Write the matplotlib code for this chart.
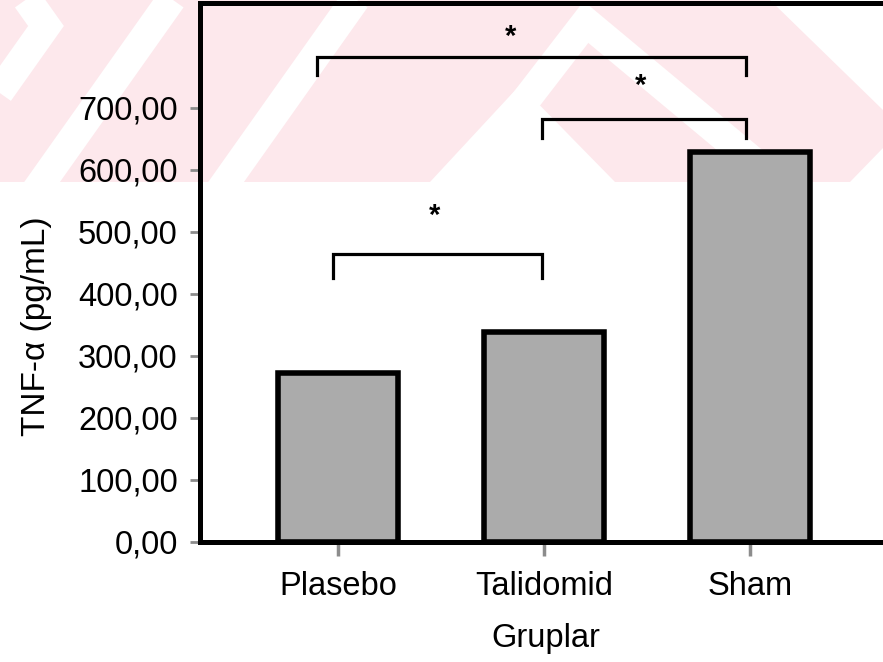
import matplotlib
matplotlib.use("Agg")
import matplotlib.pyplot as plt
from matplotlib.patches import Rectangle, Polygon
from matplotlib.lines import Line2D
from matplotlib.ticker import FuncFormatter
import matplotlib.transforms as mtransforms

# data
groups = ["Plasebo", "Talidomid", "Sham"]
tnf = [273, 339, 629]
yticks = [0, 100, 200, 300, 400, 500, 600, 700]

# significance brackets: (x start, x end, top, leg bottom) and star positions
brackets = [(-0.10, 1.98, 782, 753),
            (0.99, 1.98, 682, 652),
            (-0.025, 0.99, 465, 425)]
stars = [(0.84, 829), (1.47, 750), (0.47, 540)]

plt.rcParams['font.family'] = ['Liberation Sans', 'DejaVu Sans']

fig = plt.figure(figsize=(8.83, 6.62), dpi=100)
fig.patch.set_facecolor("white")

### pink watermark band behind the plot (pixel coords, y down)
px = mtransforms.Affine2D().scale(1 / 883, -1 / 662).translate(0, 1) + fig.transFigure
band = Rectangle((0, 0), 883, 182, transform=px, facecolor="#fde8ec",
                 edgecolor="none", zorder=-6)
fig.add_artist(band)
clip = Rectangle((0, 0), 883, 182, transform=px, facecolor="none", edgecolor="none")

stripes = [
    [(24, -5), (46, 26), (-70, 190)],
    [(178, -10), (35, 192)],
    [(362, -10), (219, 192)],
    [(455, 192), (586, 22), (790, 192)],
]
for pts in stripes:
    xs, ys = zip(*pts)
    ln = Line2D(xs, ys, transform=px, color="white", lw=21, zorder=-5,
                solid_joinstyle="miter", solid_capstyle="butt")
    ln.set_clip_path(clip)
    fig.add_artist(ln)

for poly in [[(520, 85), (430, 182), (615, 182)],
             [(770, 0), (883, 0), (883, 110)],
             [(883, 148), (883, 182), (850, 182)]]:
    pg = Polygon(poly, closed=True, transform=px, facecolor="white",
                 edgecolor="none", zorder=-5)
    pg.set_clip_path(clip)
    fig.add_artist(pg)

#%% chart
ax = fig.add_axes([200 / 883, 1 - 542 / 662, 1 - 200 / 883 + 0.01, 539 / 662])
ax.set_facecolor("none")

xpos = list(range(len(groups)))
ax.bar(xpos, tnf, width=0.585, color="#ababab", edgecolor="black", linewidth=4, zorder=2)

for x0, x1, ytop, ybot in brackets:
    ax.plot([x0, x0, x1, x1], [ybot, ytop, ytop, ybot], color="black", lw=2.3,
            solid_joinstyle="miter", zorder=3)
for sx, sy in stars:
    ax.annotate("*", (sx, sy), xytext=(0, -12), textcoords="offset points",
                ha="center", va="baseline", fontsize=21, fontweight="bold")

ax.set_xlim(-0.67, 2.69)
ax.set_ylim(0, 869)
ax.set_yticks(yticks)
ax.yaxis.set_major_formatter(FuncFormatter(lambda v, p: f"{v:.2f}".replace(".", ",")))
ax.set_xticks(xpos)
ax.set_xticklabels(groups)

for s in ["left", "bottom", "top"]:
    ax.spines[s].set_linewidth(3.6)
    ax.spines[s].set_color("black")
ax.spines["right"].set_visible(False)

ax.tick_params(axis="y", length=7, width=2, color="#8c8c8c", pad=9, labelsize=23.5)
ax.tick_params(axis="x", length=10, width=2.5, color="#8c8c8c", pad=11, labelsize=23.5)

ax.set_xlabel("Gruplar", fontsize=23.5, labelpad=15)
ax.set_ylabel("TNF-α (pg/mL)", fontsize=24)
ax.yaxis.set_label_coords(-0.214, 0.40)

plt.savefig("out.png", dpi=100)
